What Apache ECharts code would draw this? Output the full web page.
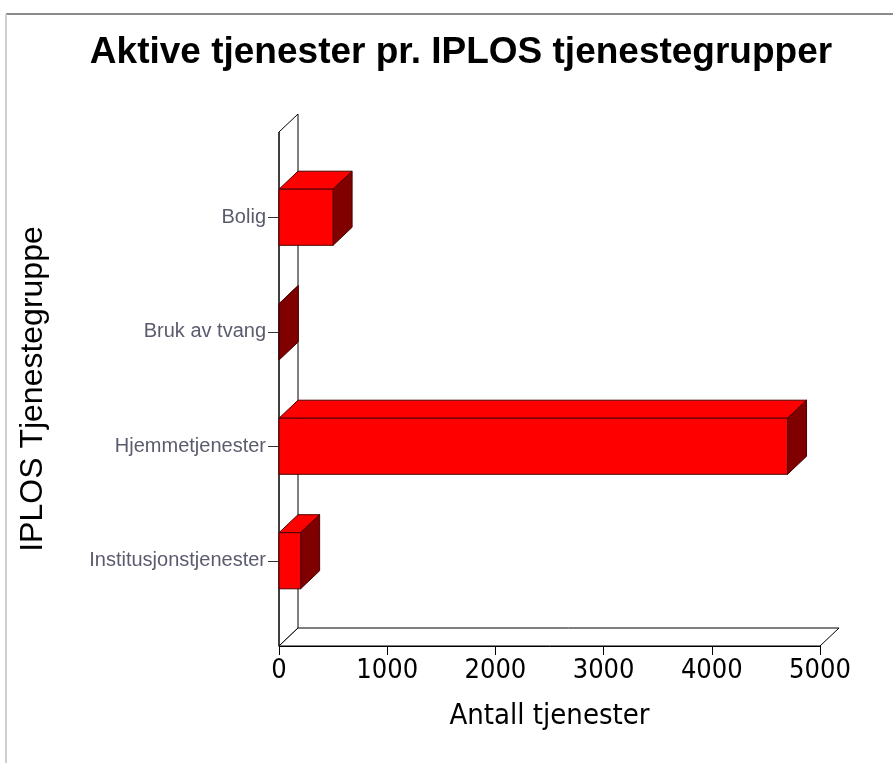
<!DOCTYPE html>
<html>
<head>
<meta charset="utf-8">
<script src="https://cdn.jsdelivr.net/npm/echarts@6/dist/echarts.min.js"></script>
<style>
  html, body { margin: 0; padding: 0; background: #fff; }
  #chart { width: 893px; height: 763px; }
</style>
</head>
<body>
<div id="chart"></div>
<script>
// data
const categories = ['Bolig', 'Bruk av tvang', 'Hjemmetjenester', 'Institusjonstjenester'];
const counts = [500, 3, 4700, 200];
const xTicks = [0, 1000, 2000, 3000, 4000, 5000];

// depth of the fake 3d look (px)
const DX = 19;
const DY = -18;

const chart = echarts.init(document.getElementById('chart'));

// wall + floor drawn from the grid rect
const renderFrame = (params, api) => {
  const cs = params.coordSys;
  const left = cs.x;
  const right = cs.x + cs.width;
  const top = cs.y - 28;
  const floor = cs.y + cs.height + 28;
  const st = { fill: null, stroke: '#000', lineWidth: 1 };
  return {
    type: 'group',
    children: [
      { type: 'polygon', shape: { points: [[left, top], [left + DX, top + DY], [left + DX, floor + DY], [left, floor]] }, style: { fill: '#fff', stroke: '#000', lineWidth: 1 } },
      { type: 'polygon', shape: { points: [[left, floor], [left + DX, floor + DY], [right + DX, floor + DY], [right, floor]] }, style: { fill: '#fff', stroke: '#000', lineWidth: 1 } },
      { type: 'line', shape: { x1: left, y1: top, x2: left, y2: floor }, style: st },
    ],
  };
};

const renderBar = (params, api) => {
  const cat = api.value(0);
  const val = api.value(1);
  const p0 = api.coord([0, cat]);
  const p1 = api.coord([val, cat]);
  const h = api.size([0, 1])[1] * 0.49;
  const x0 = p0[0];
  const x1 = p1[0];
  const y0 = p0[1] - h / 2;
  const y1 = p0[1] + h / 2;
  const edge = '#4a0000';
  return {
    type: 'group',
    children: [
      { type: 'polygon', shape: { points: [[x0, y0], [x0 + DX, y0 + DY], [x1 + DX, y0 + DY], [x1, y0]] }, style: { fill: '#ff0000', stroke: edge, lineWidth: 1 } },
      { type: 'polygon', shape: { points: [[x1, y0], [x1 + DX, y0 + DY], [x1 + DX, y1 + DY], [x1, y1]] }, style: { fill: '#800000', stroke: edge, lineWidth: 1 } },
      { type: 'rect', shape: { x: x0, y: y0, width: x1 - x0, height: y1 - y0 }, style: { fill: '#ff0000', stroke: edge, lineWidth: 1 } },
    ],
  };
};

const option = {
  animation: false,
  backgroundColor: '#fff',
  title: {
    text: 'Aktive tjenester pr. IPLOS tjenestegrupper',
    left: 456,
    textAlign: 'center',
    top: 29,
    textStyle: {
      fontFamily: 'Liberation Sans',
      fontWeight: 'bold',
      fontSize: 37,
      color: '#000',
    },
  },
  graphic: [
    { type: 'line', shape: { x1: 6, y1: 14, x2: 893, y2: 14 }, style: { stroke: '#8a8a8a', lineWidth: 2 } },
    { type: 'line', shape: { x1: 6, y1: 14, x2: 6, y2: 763 }, style: { stroke: '#cfcfcf', lineWidth: 2 } },
  ],
  grid: {
    left: 279,
    right: 73,
    top: 160,
    bottom: 145,
    containLabel: false,
  },
  xAxis: {
    type: 'value',
    min: 0,
    max: 5000,
    interval: 1000,
    offset: 28,
    name: 'Antall tjenester',
    nameLocation: 'middle',
    nameGap: 56,
    nameTextStyle: {
      fontFamily: 'DejaVu Sans Condensed',
      fontSize: 29,
      color: '#000',
    },
    splitLine: { show: false },
    axisLine: { show: true, lineStyle: { color: '#000', width: 1 } },
    axisTick: { show: true, length: 9, lineStyle: { color: '#000' } },
    axisLabel: {
      margin: 11,
      fontFamily: 'DejaVu Sans Condensed',
      fontSize: 27,
      color: '#000',
      customValues: xTicks,
      formatter: (v) => String(v),
    },
  },
  yAxis: {
    type: 'category',
    data: categories,
    inverse: true,
    name: 'IPLOS Tjenestegruppe',
    nameLocation: 'middle',
    nameGap: 230,
    nameRotate: 90,
    nameTextStyle: {
      fontFamily: 'Liberation Sans',
      fontSize: 32,
      color: '#000',
    },
    axisLine: { show: false },
    axisTick: { show: true, alignWithLabel: true, length: 11, lineStyle: { color: '#333' } },
    axisLabel: {
      margin: 13,
      fontFamily: 'Liberation Sans',
      fontSize: 20,
      color: '#5b5b6e',
    },
  },
  series: [
    {
      type: 'custom',
      z: 1,
      silent: true,
      renderItem: renderFrame,
      data: [[0, 0]],
    },
    {
      type: 'custom',
      z: 2,
      renderItem: renderBar,
      encode: { x: 1, y: 0 },
      data: categories.map((c, i) => [i, counts[i]]),
    },
  ],
};

chart.setOption(option);
</script>
</body>
</html>
